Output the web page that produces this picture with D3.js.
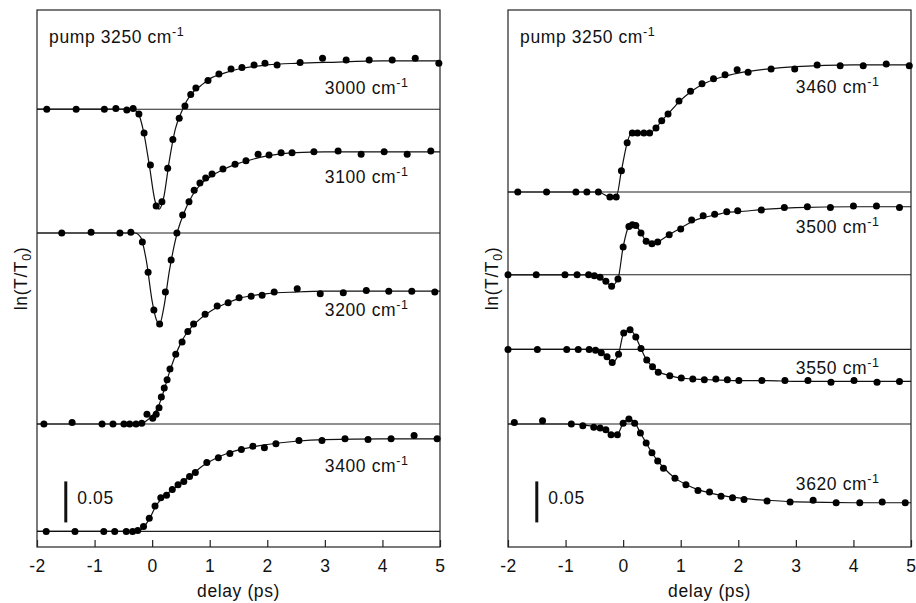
<!DOCTYPE html>
<html><head><meta charset="utf-8">
<script src="https://cdn.jsdelivr.net/npm/d3@7/dist/d3.min.js"></script>
<style>
body{margin:0;background:#fff;}
svg text{font-family:"Liberation Sans",Arial,Helvetica,sans-serif;fill:#111;letter-spacing:0.6px;}
</style></head>
<body><svg id="c" width="916" height="603"></svg>
<script>
// ---- data: delay (ps) and ln(T/T0) in units of 1e-3 relative to each trace's baseline ----
const xTicks = [-2,-1,0,1,2,3,4,5];
const probeLabels = ["3000","3100","3200","3400","3460","3500","3550","3620"];
const pumpLabel = "pump 3250 cm";
const scaleBarLabel = "0.05";

const t3000 = [-1.83,-1.32,-0.83,-0.63,-0.44,-0.33,-0.23,-0.14,-0.03,0.07,0.17,0.27,0.36,0.47,0.57,0.67,0.76,0.97,1.16,1.37,1.56,1.77,1.96,2.17,2.57,2.96,3.37,3.77,4.17,4.57,4.98];
const v3000 = [0,0,0,1,-1,1,-6,-29,-68,-118,-113,-72,-37,-11,4,18,26,35,43,49,51,54,56,54,57,62,60,60,60,62,56];
const ft3000 = [-2,-0.35,-0.25,-0.15,-0.05,0.05,0.12,0.2,0.3,0.4,0.5,0.6,0.7,0.85,1.0,1.25,1.5,2.0,2.5,3,4,5];
const fv3000 = [0,0,-4,-27,-68,-112,-122,-108,-62,-25,-5,10,20,29,37,44,49,54,56,57,59,59];

const t3100 = [-1.57,-1.06,-0.56,-0.37,-0.17,-0.07,0.03,0.13,0.23,0.33,0.43,0.53,0.64,0.73,0.83,0.93,1.04,1.23,1.44,1.63,1.84,2.03,2.24,2.43,2.81,3.23,3.63,4.03,4.43,4.84];
const v3100 = [0,1,0,1,-11,-48,-94,-111,-72,-33,0,22,38,52,61,67,72,78,84,88,96,95,98,98,99,100,96,99,96,100];
const ft3100 = [-2,-0.3,-0.2,-0.1,0,0.08,0.13,0.2,0.3,0.4,0.45,0.55,0.7,0.85,1.0,1.25,1.5,1.75,2,2.5,3,4,5];
const fv3100 = [0,0,-5,-34,-83,-107,-111,-92,-46,-10,4,24,46,60,68,78,85,90,94,98,99,99,99];

const t3200 = [-1.88,-1.39,-0.87,-0.68,-0.49,-0.39,-0.28,-0.18,-0.09,0.01,0.07,0.12,0.16,0.21,0.26,0.31,0.41,0.52,0.62,0.72,0.92,1.13,1.32,1.51,1.72,1.91,2.12,2.52,2.92,3.32,3.72,4.11,4.51,4.91];
const v3200 = [0,2,0,0,0,0,0,1,12,7,12,20,33,44,54,67,85,100,113,122,134,144,148,154,156,157,161,165,159,160,163,162,162,161];
const ft3200 = [-2,-0.2,-0.1,0,0.1,0.2,0.3,0.4,0.5,0.6,0.75,1.0,1.25,1.5,2,2.5,3,4,5];
const fv3200 = [0,0,4,10,20,40,63,83,99,111,123,137,146,153,159,161,162,162,162];

const t3400 = [-1.84,-1.34,-0.84,-0.65,-0.45,-0.34,-0.25,-0.15,-0.05,0.05,0.15,0.25,0.35,0.45,0.55,0.65,0.75,0.95,1.15,1.35,1.55,1.75,1.95,2.15,2.55,2.95,3.35,3.75,4.15,4.55,4.95];
const v3400 = [0,0,0,0,0,0,1,6,16,31,41,44,51,57,61,67,72,84,90,95,100,104,102,107,111,111,113,112,113,117,113];
const ft3400 = [-2,-0.25,-0.15,-0.05,0.05,0.15,0.3,0.5,0.7,0.9,1.1,1.3,1.6,2,2.5,3,4,5];
const fv3400 = [0,0,5,15,29,39,48,59,70,81,89,95,101,106,110,112,113,113];

const t3460 = [-1.83,-1.33,-0.82,-0.63,-0.43,-0.23,-0.12,-0.03,0.07,0.16,0.25,0.36,0.46,0.57,0.67,0.78,0.97,1.17,1.37,1.57,1.77,1.98,2.17,2.57,2.98,3.37,3.77,4.17,4.57,4.97];
const v3460 = [0,0,0,0,0,-6,-6,26,60,72,72,72,72,78,87,95,111,123,132,138,143,149,146,150,150,155,154,154,156,154];
const ft3460 = [-2,-0.43,-0.23,-0.12,-0.03,0.07,0.14,0.46,0.57,0.67,0.78,0.97,1.17,1.4,1.7,2.0,2.5,3,4,5];
const fv3460 = [0,0,-6,-6,26,60,72,72,78,87,95,110,122,132,140,145,150,153,155,155];

const t3500 = [-2.0,-1.51,-1.01,-0.80,-0.60,-0.50,-0.40,-0.30,-0.20,-0.09,0.00,0.10,0.16,0.22,0.31,0.40,0.50,0.60,0.80,1.00,1.19,1.39,1.59,1.80,1.99,2.40,2.80,3.20,3.60,4.00,4.40,4.80];
const v3500 = [0,0,0,0,0,-1,-3,-8,-14,-5,34,59,61,60,51,41,38,40,49,56,67,72,74,77,78,79,82,83,82,84,84,82];
const ft3500 = [-2,-0.6,-0.5,-0.4,-0.3,-0.2,-0.09,0,0.1,0.16,0.22,0.31,0.4,0.5,0.6,0.8,1.0,1.2,1.4,1.6,1.8,2.0,2.5,3,4,5];
const fv3500 = [0,0,-1,-4,-9,-13,-5,34,59,61,60,51,41,38,40,49,57,65,70,73,76,77,80,82,83,83];

const t3550 = [-2.0,-1.49,-0.98,-0.78,-0.59,-0.48,-0.38,-0.28,-0.19,-0.08,0.01,0.12,0.22,0.31,0.41,0.51,0.61,0.81,1.01,1.21,1.41,1.61,1.81,2.01,2.41,2.81,3.21,3.61,4.01,4.41,4.80];
const v3550 = [0,0,0,0,0,-1,-4,-9,-16,-6,20,24,15,1,-13,-21,-28,-32,-35,-36,-37,-36,-37,-38,-38,-38,-38,-40,-38,-40,-39];
const ft3550 = [-2,-0.5,-0.38,-0.28,-0.19,-0.08,0.01,0.12,0.22,0.31,0.41,0.51,0.61,0.81,1.0,1.2,1.5,2,2.5,3,4,5];
const fv3550 = [0,0,-3,-9,-16,-6,20,24,15,1,-13,-21,-27,-32,-35,-36,-37,-38,-38,-39,-39,-39];

const t3620 = [-1.89,-1.40,-0.90,-0.70,-0.51,-0.40,-0.30,-0.21,-0.10,0.00,0.10,0.20,0.30,0.40,0.50,0.60,0.70,0.90,1.09,1.30,1.50,1.70,1.90,2.10,2.50,2.90,3.30,3.70,4.11,4.50,4.90];
const v3620 = [2,4,0,-2,-4,-5,-7,-13,-13,1,6,1,-11,-23,-35,-45,-54,-66,-74,-81,-83,-88,-90,-92,-94,-95,-93,-96,-96,-95,-96];
const ft3620 = [-2,-1,-0.7,-0.51,-0.4,-0.3,-0.21,-0.1,0,0.1,0.2,0.3,0.4,0.5,0.6,0.7,0.9,1.1,1.3,1.5,1.7,2,2.5,3,4,5];
const fv3620 = [0,0,-1,-3,-5,-7,-12,-12,1,6,2,-11,-23,-35,-45,-53,-66,-74,-80,-84,-87,-90,-93,-95,-96,-96];

// vertical offsets of each trace (same 1e-3 units) and label heights
const offsets = [534,383,150,19,433,332,241,150];
const labelHeights = [552,444,282,91,554,383,211,70];
const panelOf = [0,0,0,0,1,1,1,1];

const pts = [[t3000,v3000],[t3100,v3100],[t3200,v3200],[t3400,v3400],[t3460,v3460],[t3500,v3500],[t3550,v3550],[t3620,v3620]];
const fits = [[ft3000,fv3000],[ft3100,fv3100],[ft3200,fv3200],[ft3400,fv3400],[ft3460,fv3460],[ft3500,fv3500],[ft3550,fv3550],[ft3620,fv3620]];

// ---- drawing ----
const svg = d3.select("#c");
const FS = 17.5;
const y = d3.scaleLinear().domain([0,655]).range([547,10]);
const panels = [
  {x: d3.scaleLinear().domain([-2,5]).range([37,440]), ylabX: 27},
  {x: d3.scaleLinear().domain([-2,5]).range([508,911]), ylabX: 498}
];

panels.forEach((p,pi)=>{
  const g = svg.append("g");
  const [x0,x1] = p.x.range();
  g.append("rect").attr("x",x0).attr("y",y(655)).attr("width",x1-x0).attr("height",y(0)-y(655))
   .attr("fill","none").attr("stroke","#222").attr("stroke-width",1.2);
  const ax = d3.axisBottom(p.x).tickValues(xTicks).tickFormat(d=>String(d)).tickSizeInner(-7).tickSizeOuter(0).tickPadding(13);
  const axg = g.append("g").attr("transform",`translate(0,${y(0)})`).call(ax);
  axg.select(".domain").remove();
  axg.selectAll(".tick line").attr("stroke","#222").attr("stroke-width",1.2);
  axg.selectAll(".tick text").attr("font-size",FS).attr("fill","#111")
     .style("font-family","Liberation Sans, Arial, sans-serif");
  g.append("text").attr("x",(x0+x1)/2).attr("y",597).attr("text-anchor","middle")
   .attr("font-size",FS).text("delay (ps)");
  const yt = g.append("text").attr("transform",`translate(${p.ylabX},278.5) rotate(-90)`)
   .attr("text-anchor","middle").attr("font-size",FS);
  yt.append("tspan").text("ln(T/T");
  yt.append("tspan").attr("font-size",12.5).attr("dy",4).text("0");
  yt.append("tspan").attr("dy",-4).text(")");
  const pl = g.append("text").attr("x",p.x(-1.79)).attr("y",y(615)).attr("font-size",FS);
  pl.append("tspan").text(pumpLabel);
  pl.append("tspan").attr("font-size",12.5).attr("dy",-7).text("-1");
  g.append("line").attr("x1",p.x(-1.5)).attr("x2",p.x(-1.5)).attr("y1",y(30)).attr("y2",y(80))
   .attr("stroke","#111").attr("stroke-width",3);
  g.append("text").attr("x",p.x(-1.3)).attr("y",y(52)).attr("font-size",FS).text(scaleBarLabel);
});

const line = d3.line().curve(d3.curveMonotoneX);
probeLabels.forEach((lab,i)=>{
  const p = panels[panelOf[i]];
  const off = offsets[i];
  const g = svg.append("g");
  g.append("line").attr("x1",p.x(-2)).attr("x2",p.x(5)).attr("y1",y(off)).attr("y2",y(off))
   .attr("stroke","#222").attr("stroke-width",1.1);
  const [ft,fv] = fits[i];
  g.append("path").attr("d", line(ft.map((t,k)=>[p.x(t), y(off+fv[k])])))
   .attr("fill","none").attr("stroke","#111").attr("stroke-width",1.2);
  const [tt,vv] = pts[i];
  g.selectAll("circle").data(tt.map((t,k)=>[t,vv[k]])).join("circle")
   .attr("cx",d=>p.x(d[0])).attr("cy",d=>y(off+d[1])).attr("r",3.5).attr("fill","#000");
  const tx = g.append("text").attr("x",p.x(3.0)).attr("y",y(labelHeights[i])).attr("font-size",FS);
  tx.append("tspan").text(lab+" cm");
  tx.append("tspan").attr("font-size",12.5).attr("dy",-7).text("-1");
});
</script></body></html>
